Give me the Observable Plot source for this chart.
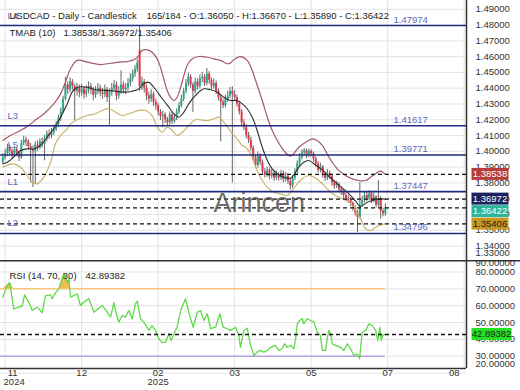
<!DOCTYPE html>
<html><head><meta charset="utf-8">
<script src="https://cdn.jsdelivr.net/npm/d3@7"></script>
<script src="https://cdn.jsdelivr.net/npm/@observablehq/plot@0.6"></script>
<style>
html,body{margin:0;padding:0;background:#fff;}
#wrap{position:relative;width:520px;height:390px;overflow:hidden;}
#wrap svg{display:block;position:absolute;left:0;}
</style></head><body><div id="wrap"></div>
<script>
// ---------- data ----------
const opens = [
1.3930,1.3960,1.3985,1.4020,1.4000,1.3975,1.4010,1.3990,1.3960,1.4050,
1.4070,1.4060,1.4030,1.4010,1.4000,1.4040,1.4025,1.4060,1.4045,1.4080,
1.4110,1.4100,1.4120,1.4140,1.4170,1.4210,1.4250,1.4330,1.4420,1.4390,
1.4440,1.4410,1.4380,1.4400,1.4370,1.4395,1.4360,1.4385,1.4410,1.4390,
1.4355,1.4380,1.4400,1.4370,1.4360,1.4390,1.4340,1.4370,1.4400,1.4420,
1.4350,1.4380,1.4420,1.4390,1.4400,1.4430,1.4460,1.4490,1.4520,1.4640,
1.4410,1.4440,1.4400,1.4350,1.4330,1.4360,1.4310,1.4290,1.4250,1.4220,
1.4230,1.4200,1.4180,1.4230,1.4190,1.4210,1.4250,1.4290,1.4330,1.4380,
1.4430,1.4470,1.4420,1.4380,1.4440,1.4410,1.4460,1.4470,1.4430,1.4490,
1.4450,1.4410,1.4430,1.4380,1.4340,1.4310,1.4290,1.4330,1.4350,1.4380,
1.4360,1.4340,1.4300,1.4250,1.4180,1.4150,1.4100,1.4070,1.4020,1.3960,
1.3910,1.3970,1.3930,1.3870,1.3850,1.3880,1.3840,1.3860,1.3830,1.3850,
1.3830,1.3860,1.3820,1.3840,1.3810,1.3780,1.3830,1.3870,1.3920,1.3960,
1.3990,1.4005,1.3975,1.4000,1.3985,1.3950,1.3920,1.3880,1.3900,1.3850,
1.3830,1.3860,1.3840,1.3800,1.3780,1.3790,1.3760,1.3740,1.3720,1.3700,
1.3690,1.3670,1.3640,1.3610,1.3580,1.3660,1.3690,1.3720,1.3700,1.3730,
1.3690,1.3710,1.3660,1.3700,1.3620,1.3605];
const highs = [
1.3985,1.4010,1.4045,1.4040,1.4015,1.4030,1.4025,1.4000,1.4070,1.4095,
1.4090,1.4075,1.4050,1.4035,1.4060,1.4065,1.4080,1.4085,1.4100,1.4130,
1.4135,1.4145,1.4165,1.4190,1.4230,1.4275,1.4350,1.4470,1.4440,1.4465,
1.4455,1.4425,1.4430,1.4420,1.4425,1.4410,1.4415,1.4440,1.4430,1.4405,
1.4410,1.4430,1.4420,1.4400,1.4420,1.4405,1.4395,1.4430,1.4450,1.4440,
1.4410,1.4510,1.4440,1.4430,1.4460,1.4490,1.4515,1.4545,1.4580,1.4797,
1.4470,1.4455,1.4420,1.4375,1.4390,1.4375,1.4330,1.4305,1.4265,1.4255,
1.4245,1.4215,1.4250,1.4245,1.4235,1.4270,1.4310,1.4355,1.4400,1.4455,
1.4495,1.4485,1.4435,1.4465,1.4460,1.4485,1.4500,1.4485,1.4525,1.4505,
1.4465,1.4460,1.4445,1.4395,1.4360,1.4330,1.4355,1.4380,1.4405,1.4410,
1.4385,1.4355,1.4315,1.4265,1.4200,1.4170,1.4120,1.4090,1.4035,1.3980,
1.3995,1.3985,1.3945,1.3890,1.3900,1.3895,1.3885,1.3875,1.3875,1.3865,
1.3880,1.3875,1.3865,1.3855,1.3825,1.3850,1.3890,1.3940,1.3985,1.4010,
1.4018,1.4015,1.4015,1.4010,1.3995,1.3965,1.3935,1.3925,1.3910,1.3865,
1.3885,1.3875,1.3850,1.3815,1.3810,1.3800,1.3775,1.3755,1.3735,1.3720,
1.3705,1.3680,1.3655,1.3625,1.3800,1.3715,1.3745,1.3740,1.3750,1.3745,
1.3735,1.3720,1.3815,1.3715,1.3640,1.3667];
const lows = [
1.3915,1.3945,1.3970,1.3975,1.3950,1.3960,1.3965,1.3935,1.3950,1.4035,
1.4030,1.4005,1.3800,1.3770,1.3790,1.4000,1.4010,1.4020,1.3940,1.4060,
1.4075,1.4080,1.4100,1.4125,1.4150,1.4190,1.4240,1.4320,1.4360,1.4370,
1.4385,1.4195,1.4350,1.4340,1.4350,1.4330,1.4340,1.4365,1.4360,1.4320,
1.4335,1.4360,1.4345,1.4330,1.4340,1.4310,1.4165,1.4350,1.4380,1.4320,
1.4330,1.4360,1.4365,1.4360,1.4380,1.4410,1.4440,1.4470,1.4500,1.4380,
1.4385,1.4370,1.4320,1.4300,1.4310,1.4285,1.4260,1.4225,1.4195,1.4150,
1.4175,1.4160,1.4165,1.4170,1.4175,1.4195,1.4235,1.4275,1.4315,1.4365,
1.4410,1.4400,1.4246,1.4365,1.4390,1.4395,1.4435,1.4410,1.4415,1.4425,
1.4390,1.4395,1.4360,1.4320,1.4060,1.4270,1.4275,1.4310,1.4335,1.3800,
1.4315,1.4280,1.4230,1.4160,1.4130,1.4080,1.4050,1.4000,1.3940,1.3890,
1.3895,1.3910,1.3850,1.3830,1.3835,1.3820,1.3825,1.3810,1.3815,1.3810,
1.3815,1.3800,1.3805,1.3790,1.3755,1.3765,1.3815,1.3855,1.3905,1.3945,
1.3970,1.3955,1.3960,1.3965,1.3930,1.3900,1.3860,1.3865,1.3830,1.3810,
1.3815,1.3820,1.3780,1.3760,1.3765,1.3740,1.3720,1.3700,1.3680,1.3670,
1.3650,1.3620,1.3590,1.3485,1.3570,1.3645,1.3675,1.3680,1.3685,1.3670,
1.3675,1.3640,1.3645,1.3570,1.3585,1.3589];
const closes = [
1.3960,1.3985,1.4020,1.4000,1.3975,1.4010,1.3990,1.3960,1.4050,1.4070,
1.4060,1.4030,1.4010,1.4000,1.4040,1.4025,1.4060,1.4045,1.4080,1.4110,
1.4100,1.4120,1.4140,1.4170,1.4210,1.4250,1.4330,1.4420,1.4390,1.4440,
1.4410,1.4380,1.4400,1.4370,1.4395,1.4360,1.4385,1.4410,1.4390,1.4355,
1.4380,1.4400,1.4370,1.4360,1.4390,1.4340,1.4370,1.4400,1.4420,1.4350,
1.4380,1.4420,1.4390,1.4400,1.4430,1.4460,1.4490,1.4520,1.4560,1.4410,
1.4440,1.4400,1.4350,1.4330,1.4360,1.4310,1.4290,1.4250,1.4220,1.4230,
1.4200,1.4180,1.4230,1.4190,1.4210,1.4250,1.4290,1.4330,1.4380,1.4430,
1.4470,1.4420,1.4380,1.4440,1.4410,1.4460,1.4470,1.4430,1.4490,1.4450,
1.4410,1.4430,1.4380,1.4340,1.4310,1.4290,1.4330,1.4350,1.4380,1.4360,
1.4340,1.4300,1.4250,1.4180,1.4150,1.4100,1.4070,1.4020,1.3960,1.3910,
1.3970,1.3930,1.3870,1.3850,1.3880,1.3840,1.3860,1.3830,1.3850,1.3830,
1.3860,1.3820,1.3840,1.3810,1.3780,1.3830,1.3870,1.3920,1.3960,1.3990,
1.4005,1.3975,1.4000,1.3985,1.3950,1.3920,1.3880,1.3900,1.3850,1.3830,
1.3860,1.3840,1.3800,1.3780,1.3790,1.3760,1.3740,1.3720,1.3700,1.3690,
1.3670,1.3640,1.3610,1.3580,1.3660,1.3690,1.3720,1.3700,1.3730,1.3690,
1.3710,1.3660,1.3700,1.3620,1.3605,1.36422];

// TMA bands (bar index, value)
const upIdx = [0,3.3,7.6,10.5,14.8,17.7,22,24.9,27,29.2,32.1,36.4,42.1,46.5,50,53.7,56.5,58.7,60.1,62.3,64.4,66.6,68,69.4,70.9,72.3,73.8,75.2,76.7,78.1,79.5,81.7,84.5,88.2,91,93.9,96.8,98.2,99.6,102.5,105.4,107.6,109.7,111.9,114.1,116.2,118.4,121.2,124.1,127.7,130.6,133.5,135.6,137.8,139.9,142.1,144.9,147.8,150.7,153.6,156.5,158.6,160.8,162.9,165];
const upVal = [1.4069,1.4100,1.4132,1.4157,1.4206,1.4238,1.4301,1.4364,1.4438,1.4523,1.4576,1.4565,1.4550,1.4558,1.4565,1.4569,1.4580,1.4607,1.4639,1.4643,1.4628,1.4586,1.4533,1.4460,1.4385,1.4343,1.4322,1.4343,1.4406,1.4481,1.4544,1.4586,1.4601,1.4596,1.4586,1.4576,1.4555,1.4560,1.4580,1.4600,1.4576,1.4510,1.4420,1.4322,1.4216,1.4132,1.4069,1.4005,1.3970,1.4026,1.4058,1.4079,1.4069,1.4037,1.3984,1.3931,1.3879,1.3847,1.3826,1.3815,1.3815,1.3836,1.3858,1.3874,1.38538];
const midIdx = [0,1.9,4.7,7.6,10.5,13.4,16.3,19.1,22,24.9,27.8,29.9,32.1,36.4,40,44.3,48.6,52.9,55.8,58.7,60.8,63,65.1,67.3,69.4,71.6,73.8,75.9,78.1,80.2,83.1,86.7,89.6,92.5,95.3,98.2,101.1,103.3,105.4,107.6,109.7,111.9,114.1,116.2,118.4,121.2,124.1,127.7,129.8,132,134.2,136.3,138.5,140.6,143.5,146.4,149.3,152.2,154.3,156.5,159.4,162.2,165];
const midVal = [1.3921,1.3931,1.3963,1.4005,1.4016,1.4016,1.4037,1.4089,1.4143,1.4216,1.4301,1.4375,1.4406,1.4406,1.4390,1.4386,1.4381,1.4375,1.4381,1.4396,1.4428,1.4438,1.4406,1.4364,1.4322,1.4280,1.4238,1.4216,1.4248,1.4301,1.4354,1.4396,1.4390,1.4375,1.4343,1.4322,1.4322,1.4301,1.4270,1.4216,1.4132,1.4026,1.3942,1.3889,1.3858,1.3836,1.3830,1.3899,1.3931,1.3942,1.3921,1.3899,1.3874,1.3842,1.3804,1.3768,1.3731,1.3684,1.3650,1.3671,1.3688,1.3699,1.36972];
const lowIdx = [0,4.7,7.6,10.5,12.7,14.8,17.7,20.6,22.7,24.9,27.8,29.2,32.8,36.4,40,42.9,45.7,48.6,51.5,54.3,58.7,61.6,64.4,66.6,68.8,70.9,73.1,75.2,77.4,80.2,83.1,88.2,91,93.2,95.3,97.5,99,101.1,103.3,104.7,106.9,108.3,109.7,111.9,114.1,116.9,119.8,122.7,124.8,127,129.2,132,134.2,136.3,138.5,140.6,143.5,146.4,149.3,152.2,154.3,156.5,158.6,160.8,162.9,165];
const lowVal = [1.3900,1.3920,1.3899,1.3847,1.3804,1.3794,1.3836,1.3930,1.4048,1.4100,1.4143,1.4174,1.4206,1.4227,1.4238,1.4259,1.4270,1.4248,1.4227,1.4238,1.4259,1.4259,1.4227,1.4153,1.4121,1.4153,1.4132,1.4100,1.4121,1.4164,1.4200,1.4195,1.4206,1.4216,1.4185,1.4143,1.4111,1.4079,1.4037,1.4026,1.3984,1.3931,1.3879,1.3815,1.3773,1.3741,1.3731,1.3720,1.3752,1.3794,1.3826,1.3847,1.3836,1.3815,1.3784,1.3752,1.3720,1.3699,1.3678,1.3625,1.3572,1.3509,1.3498,1.3519,1.3534,1.35406];

// RSI (bar index, value)
const rsiIdx = [0,1.9,3,4.7,6.9,8.4,9.4,11.2,12.7,14.8,17,18.4,20.6,21.3,22.7,24.2,26.3,27.8,28.5,29.2,32.1,33.5,34.9,37.1,39.3,41.4,42.9,45,46.5,47.9,48.6,50,51.5,52.9,54.3,55.8,57.2,58,59.4,60.8,63,64.4,65.9,67.3,68.8,70.2,71.6,72.6,73.8,75.2,76.7,78.8,80.2,82.1,83.9,85.3,86.7,88.2,89.6,91.8,93.6,95.1,96.8,98.2,100.4,101.8,102.5,104,105.4,106.9,108.3,109.7,110.9,112.6,114.1,115.5,117.6,119.1,120.5,121.5,122.7,124.1,125.5,126.3,127,128.1,129.2,129.8,131.3,132.7,134.2,135.6,137,137.8,139.2,139.9,140.6,141.4,142.1,143.5,145.7,147.1,148.6,150,151.4,152.9,153.9,155,156.5,157.9,159.4,160.8,161.8,162.6,163.2,163.8,165];
const rsiVal = [65.0,72.0,73.6,58.1,59.1,59.7,66.4,62.0,57.1,59.1,55.8,66.0,66.4,64.1,67.6,70.0,78.9,73.9,75.9,65.0,67.0,60.1,62.0,64.1,56.1,58.5,60.1,56.1,53.2,62.0,57.1,50.2,54.2,53.2,57.1,52.2,61.1,62.6,52.2,50.2,45.3,48.2,45.3,40.3,38.0,38.3,43.3,39.3,43.3,47.2,57.1,64.1,56.1,47.2,56.1,57.1,51.2,55.2,46.3,47.2,55.2,47.2,46.3,45.3,47.2,42.3,35.3,45.3,46.6,36.4,30.4,32.4,33.4,32.4,33.4,35.3,36.4,33.4,34.4,37.4,35.3,36.4,34.4,40.3,49.2,51.2,52.2,49.2,52.2,51.2,50.2,44.2,42.3,33.4,33.4,40.3,45.3,43.3,37.4,36.4,35.3,33.4,37.4,34.4,30.4,31.4,28.5,44.2,45.3,49.2,48.2,45.3,39.3,47.2,39.3,42.3,42.89382];

const levels = [1.47974, 1.41617, 1.39771, 1.37447, 1.34796];
const levelNames = ["L4", "L3", "L5", "L1", "L2"];
const dashedLevels = [1.38538, 1.36972, 1.36422, 1.35406];
const priceTicks = [1.33,1.34,1.35,1.36,1.37,1.38,1.39,1.40,1.41,1.42,1.43,1.44,1.45,1.46,1.47,1.48,1.49];
const rsiTicks = [20,30,40,50,60,70,80,90];
const rsiLevels = [70, 30];
const rsiLast = 42.89382;
const xTickIdx = [1, 34, 67, 100, 133, 166, 199];
const xTickLabels = ["11","12","02","03","05","07","08"];
const yearLabels = [{i: 1, t: "2024"}, {i: 67, t: "2025"}];
const titleLeft = "USDCAD - Daily - Candlestick";
const titleRight = "165/184 - O:1.36050 - H:1.36670 - L:1.35890 - C:1.36422";
const tmaLabel = "TMAB (10)";
const tmaValues = "1.38538/1.36972/1.35406";
const rsiLabel = "RSI (14, 70, 30)";
const lastClose = 1.36422;

// ---------- build ----------
const FONT = "'Liberation Sans', Arial, sans-serif";
const UP = "#2aa88e", DOWN = "#e0384a";
const xDomain = [-1, 200];
const candles = closes.map((c, i) => ({i, o: opens[i], h: highs[i], l: lows[i], c}));
const pts = (idx, val) => idx.map((i, k) => ({i, v: val[k]}));
const upper = pts(upIdx, upVal), mid = pts(midIdx, midVal), lower = pts(lowIdx, lowVal);
const rsiPts = pts(rsiIdx, rsiVal);
const fmt5 = d => d.toFixed(5);
const gridColor = "#e4e4e4";
const lastBar = candles.length - 1;

const main = Plot.plot({
  width: 520, height: 260,
  marginTop: 0, marginBottom: 0, marginLeft: 0, marginRight: 54,
  style: {fontFamily: FONT, fontSize: "9.5px", color: "#333", background: "transparent"},
  x: {domain: xDomain, axis: null},
  y: {domain: [1.33082, 1.49558], axis: null},
  color: {type: "identity"},
  marks: [
    Plot.gridY(priceTicks, {stroke: gridColor, strokeOpacity: 1}),
    Plot.gridX(xTickIdx, {stroke: gridColor, strokeOpacity: 1}),
    Plot.ruleX(candles, {x: "i", y1: "l", y2: "h", stroke: "#666", strokeWidth: 1}),
    Plot.ruleX(candles, {x: "i", y1: "o", y2: "c", stroke: d => d.c >= d.o ? UP : DOWN, strokeWidth: 2}),
    Plot.line(upper, {x: "i", y: "v", stroke: "#a35a64", strokeWidth: 1.2, curve: "catmull-rom"}),
    Plot.line(mid, {x: "i", y: "v", stroke: "#2e2e2e", strokeWidth: 1.1, curve: "catmull-rom"}),
    Plot.line(lower, {x: "i", y: "v", stroke: "#c9b46c", strokeWidth: 1.2, curve: "catmull-rom"}),
    Plot.ruleY(levels, {stroke: "#222b7e", strokeWidth: 1.6}),
    Plot.ruleY(dashedLevels, {stroke: "#111", strokeWidth: 1.3, strokeDasharray: "4,3"}),
    Plot.text(levels, {x: 168.5, y: d => d, dy: -6, text: fmt5, textAnchor: "start", fill: "#5a6cc0"}),
    Plot.text(levels, {x: 2, y: d => d, dy: -10, text: (d, k) => levelNames[k], textAnchor: "start", fill: "#5a6cc0"}),
    Plot.text(["Arincen"], {frameAnchor: "top-left", dx: 213, dy: 192, textAnchor: "start", fontSize: 27, fill: "#505050", fillOpacity: 0.85}),
    Plot.ruleX([xDomain[1]], {stroke: "#333", strokeWidth: 1.5}),
    Plot.axisY(priceTicks.filter(v => v > 1.335), {anchor: "right", tickSize: 0, tickPadding: 9, tickFormat: fmt5, label: null, fill: "#333"}),
    Plot.text([priceTicks[0]], {x: xDomain[1], y: d => d, dx: 9, dy: -8.5, text: fmt5, textAnchor: "start", fill: "#333"}),
    Plot.text([titleLeft], {frameAnchor: "top-left", dx: 9, dy: 12, textAnchor: "start", fill: "#222"}),
    Plot.text([titleRight], {frameAnchor: "top-left", dx: 146, dy: 12, textAnchor: "start", fill: "#222"}),
    Plot.text([tmaLabel], {frameAnchor: "top-left", dx: 9, dy: 29, textAnchor: "start", fill: "#222"}),
    Plot.text([tmaValues], {frameAnchor: "top-left", dx: 63, dy: 29, textAnchor: "start", fill: "#222"})
  ]
});

const rsiDomain = [22.7, 86.8];
const rsi = Plot.plot({
  width: 520, height: 130,
  marginTop: 0, marginBottom: 22, marginLeft: 0, marginRight: 54,
  style: {fontFamily: FONT, fontSize: "9.5px", color: "#333", background: "transparent"},
  x: {domain: xDomain, axis: null},
  y: {domain: rsiDomain, axis: null},
  marks: [
    Plot.gridY(rsiTicks, {stroke: gridColor, strokeOpacity: 1}),
    Plot.gridX(xTickIdx, {stroke: gridColor, strokeOpacity: 1}),
    Plot.areaY(rsiPts, {x: "i", y1: rsiLevels[0], y2: d => Math.max(rsiLevels[0], d.v), fill: "#f2b23f", fillOpacity: 0.9}),
    Plot.ruleY([rsiLevels[0]], {x1: xDomain[0], x2: lastBar, stroke: "#f7c67c", strokeWidth: 1.5}),
    Plot.ruleY([rsiLevels[1]], {x1: xDomain[0], x2: lastBar, stroke: "#b8a2df", strokeWidth: 1.5}),
    Plot.line(rsiPts, {x: "i", y: "v", stroke: "#5fd94a", strokeWidth: 1.3}),
    Plot.ruleY([rsiLast], {stroke: "#111", strokeWidth: 1.3, strokeDasharray: "4,3"}),
    Plot.ruleX([xDomain[1]], {stroke: "#333", strokeWidth: 1.5}),
    Plot.ruleY([rsiDomain[0]], {stroke: "#333", strokeWidth: 1.5}),
    Plot.axisY(rsiTicks.slice(1, -1), {anchor: "right", tickSize: 0, tickPadding: 9, tickFormat: fmt5, label: null, fill: "#333"}),
    Plot.text([rsiTicks[rsiTicks.length - 1]], {x: xDomain[1], y: d => d, dx: 9, dy: 8, text: fmt5, textAnchor: "start", fill: "#333"}),
    Plot.text([rsiTicks[0]], {x: xDomain[1], y: d => d, dx: 9, dy: -9, text: fmt5, textAnchor: "start", fill: "#333"}),
    Plot.text([0], {x: xTickIdx[0], text: () => xTickLabels[0], frameAnchor: "bottom", dx: 7.5, dy: 7, fill: "#333"}),
    Plot.text(xTickIdx.slice(1, -1), {x: d => d, text: (d, k) => xTickLabels[k + 1], frameAnchor: "bottom", dy: 7, fill: "#333"}),
    Plot.text([0], {x: xTickIdx[xTickIdx.length - 1], text: () => xTickLabels[xTickLabels.length - 1], frameAnchor: "bottom", dx: -10, dy: 7, fill: "#333"}),
    Plot.text(yearLabels.slice(0, 1), {x: "i", text: "t", frameAnchor: "bottom", dx: 9, dy: 16, fill: "#333"}),
    Plot.text(yearLabels.slice(1), {x: "i", text: "t", frameAnchor: "bottom", dy: 16, fill: "#333"}),
    Plot.text([rsiLabel], {frameAnchor: "top-left", dx: 9, dy: 12, textAnchor: "start", fill: "#222"}),
    Plot.text([fmt5(rsiLast)], {frameAnchor: "top-left", dx: 85, dy: 12, textAnchor: "start", fill: "#222"})
  ]
});

function drawTags(svgEl, yScale, tags) {
  const H = 12;
  const items = tags.map(t => ({...t, cy: yScale.apply(t.v)})).sort((a, b) => a.cy - b.cy);
  for (let k = 1; k < items.length; k++) {
    if (items[k].cy < items[k - 1].cy + H + 0.5) items[k].cy = items[k - 1].cy + H + 0.5;
  }
  const g = d3.select(svgEl).append("g");
  for (const t of items) {
    g.append("rect").attr("x", 471.5).attr("y", t.cy - H / 2).attr("width", t.w || 37).attr("height", H).attr("fill", t.bg);
    g.append("text").attr("x", 471.5 + (t.w || 37) / 2).attr("y", t.cy).attr("dy", "0.35em")
      .attr("text-anchor", "middle").attr("fill", t.fg)
      .style("font-family", FONT).style("font-size", "9.5px").text(fmt5(t.v));
  }
}
drawTags(main, main.scale("y"), [
  {v: dashedLevels[0], bg: "#b83b3b", fg: "#fff"},
  {v: dashedLevels[1], bg: "#1c2160", fg: "#fff"},
  {v: lastClose, bg: "#2bb59c", fg: "#fff"},
  {v: dashedLevels[3], bg: "#c8951f", fg: "#222"}
]);
drawTags(rsi, rsi.scale("y"), [{v: rsiLast, bg: "#22e022", fg: "#222", w: 40}]);
d3.select(rsi).append("line").attr("x1", 0).attr("x2", 520).attr("y1", 0.75).attr("y2", 0.75)
  .attr("stroke", "#333").attr("stroke-width", 1.5);

main.style.top = "0px";
rsi.style.top = "260px";
const wrap = document.getElementById("wrap");
wrap.appendChild(main);
wrap.appendChild(rsi);
</script></body></html>
